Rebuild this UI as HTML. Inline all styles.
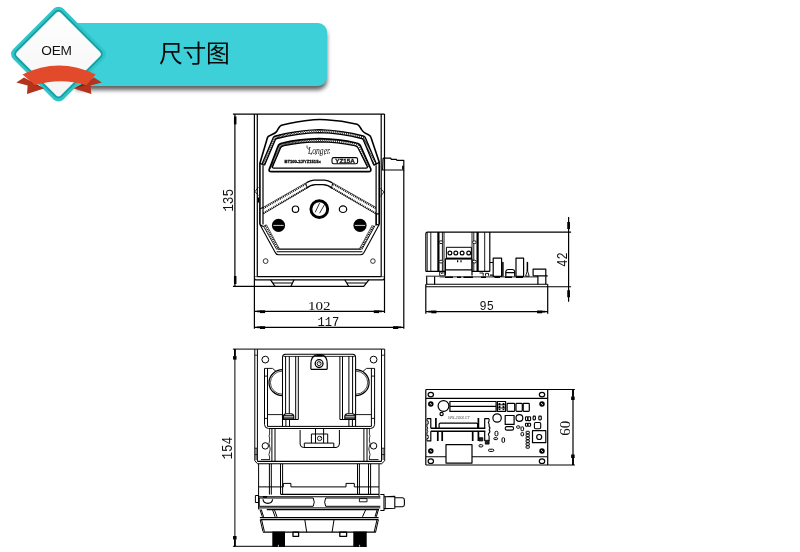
<!DOCTYPE html>
<html lang="zh">
<head>
<meta charset="utf-8">
<title>尺寸图</title>
<style>
html,body{margin:0;padding:0;background:#fff;}
body{width:800px;height:552px;position:relative;overflow:hidden;font-family:"Liberation Sans","Noto Sans CJK SC",sans-serif;}
#banner{position:absolute;left:76px;top:23px;width:251px;height:63px;background:#3dd0d9;border-radius:0 9px 9px 0;box-shadow:0 4px 4px rgba(0,0,0,.62);}
#title{will-change:transform;position:absolute;left:159px;top:38px;font-size:23.8px;line-height:32px;color:#0a0a0a;letter-spacing:-0.3px;white-space:nowrap;}
#oem{will-change:transform;position:absolute;left:26.2px;top:41px;width:61px;text-align:center;font-size:13.7px;letter-spacing:-0.2px;line-height:20px;color:#111;}
svg{position:absolute;left:0;top:0;}
#dw{shape-rendering:auto;}
#dw{will-change:transform;}
#dw text{font-family:"Liberation Mono",monospace;fill:#111;stroke:none;}
</style>
</head>
<body>
<div id="banner"></div>
<svg id="badge" width="800" height="552" viewBox="0 0 800 552">

<defs>
<linearGradient id="wg" x1="0" y1="0" x2="1" y2="1"><stop offset="0" stop-color="#ffffff"/><stop offset="1" stop-color="#f4f4f4"/></linearGradient>
</defs>
<g transform="translate(58.5,54.1) rotate(45)">
<rect x="-35.6" y="-35.6" width="71.2" height="71.2" rx="7" fill="#2fc6c9"/>
<rect x="-32.8" y="-32.8" width="65.6" height="65.6" rx="5" fill="#17a1a5"/>
<rect x="-30.9" y="-30.9" width="61.8" height="61.8" rx="3.5" fill="url(#wg)"/>
</g>
<!-- ribbon tails -->
<path d="M16.3 82.5 L24 77.5 L44 88.6 L27 94 L27.6 85.5 Z" fill="#b4331c"/>
<path d="M101.9 82.5 L94 77.5 L74 88.6 L91.3 94 L90.6 85.5 Z" fill="#b4331c"/>
<path d="M27 79.5 L35 85 L44 88.6 Z" fill="#7a2213"/>
<path d="M91 79.5 L86.3 85 L74 88.6 Z" fill="#7a2213"/>
<path d="M22.5 74.4 Q59 56.5 95.6 74.4 L86.3 85.2 Q60.5 77.5 35 85.2 Z" fill="#e14b2c"/>

</svg>
<div id="title">尺寸图</div>
<div id="oem">OEM</div>
<svg id="dw" width="800" height="552" viewBox="0 0 800 552" fill="none" stroke="#000" stroke-width="1.2" stroke-linecap="butt" stroke-linejoin="round">
<!--FRONT-->
<path d="M232.9 114.1H384.5"/>
<path d="M234.9 114.1V286.3"/>
<path d="M235.20000000000002 116.39999999999999L235.20000000000002 124.39999999999999" stroke-width="2.5"/>
<path d="M235.20000000000002 284.0L235.20000000000002 276.0" stroke-width="2.5"/>
<path d="M232.9 286.3H364"/>
<path d="M254.4 114.1V328.8M257.3 114.1V276.7M381.2 114.1V276.7M384.5 114.1V313"/>
<path d="M257.3 276.7H381.2M254.4 278.6L255.6 279.8H383.2L384.5 278.4"/>
<path d="M254.4 276.7H257.3M381.2 276.7H384.5" stroke-width="0.6"/>
<path d="M270.6 279.8L275 286.3M294 279.8L291 286.3M272.2 283H293"/>
<path d="M344.8 279.8L348.6 286.3M368.9 279.8L363.8 286.3M346.5 283H366.5"/>
<path d="M254.4 311.4H384.5M254.4 327.3H403.7M403.8 170V328.8"/>
<path d="M259.9 311.7L265.1 311.7" stroke-width="2.8"/><path d="M256.9 311.4L260.4 311.4" stroke-width="1.7"/>
<path d="M379.0 311.7L373.8 311.7" stroke-width="2.8"/><path d="M382.0 311.4L378.5 311.4" stroke-width="1.7"/>
<path d="M259.9 327.6L265.1 327.6" stroke-width="2.8"/><path d="M256.9 327.3L260.4 327.3" stroke-width="1.7"/>
<path d="M398.2 327.6L393.0 327.6" stroke-width="2.8"/><path d="M401.2 327.3L397.7 327.3" stroke-width="1.7"/>
<text x="308" y="310" style="font-family:'Liberation Serif',serif" font-size="13.4" textLength="22.6" lengthAdjust="spacingAndGlyphs">102</text>
<text x="317.4" y="325.6" font-size="13.5" textLength="21.8" lengthAdjust="spacingAndGlyphs">117</text>
<text transform="translate(233.1,211.8) rotate(-90)" font-size="14.5" textLength="23" lengthAdjust="spacingAndGlyphs">135</text>
<path d="M383.1 158.1H390.6L391.4 159.4H396.3L397 160.3H403.8V170H382.6L383.1 158.1" stroke-width="1.2"/>
<path d="M402.9 165.8V169.6" stroke-width="1.6"/>
<path d="M259.9 224.6V163.3L267.5 137.5Q268 136 270 135.4Q275.7 133.2 277 131Q279.5 126 281.5 125.2Q296 121.3 313.7 119.7Q319.5 119.3 326 119.7Q342 120.6 357 124.2Q359 125 361.5 129.5Q363 132.5 368 134.5Q370.5 135.5 371 137.5L379.2 162V224.6" stroke-width="1.6"/>
<path d="M263 224.6V165.3M376.1 224.6V165.3"/>
<path d="M261.8 164.6L273.3 137.6Q273.8 136.4 275.5 136Q297 130.2 319.3 129.6Q342 130.2 363.2 136Q364.8 136.4 365.3 137.6L376.6 164.6" stroke-width="1.3"/>
<path d="M264.5 165.3L275.3 139.8Q275.8 138.8 277 138.5Q298 133 319.3 132.6Q341 133 361.6 138.5Q362.8 138.8 363.3 139.8L373.9 165.3" stroke-width="1.3"/>
<path d="M261.8 164.6L265.3 163.3M262.7 162.5L266.2 161.4M263.6 160.5L267.0 159.4M264.4 158.4L267.8 157.4M265.3 156.3L268.7 155.5M266.2 154.2L269.5 153.5M267.1 152.2L270.3 151.5M268.0 150.1L271.2 149.6M268.9 148.0L272.0 147.6M269.7 146.0L272.8 145.6M270.6 143.9L273.7 143.6M271.5 141.8L274.5 141.7M272.4 139.8L275.3 139.7M273.3 137.7L277.0 138.5M274.9 136.2L279.1 138.0M277.0 135.6L281.2 137.5M279.2 135.0L283.3 137.0M281.4 134.5L285.3 136.5M283.6 134.0L287.4 136.1M285.8 133.5L289.5 135.7M288.0 133.1L291.6 135.3M290.2 132.7L293.7 134.9M292.4 132.3L295.9 134.6M294.6 131.9L298.0 134.3M296.9 131.5L300.1 134.0M299.1 131.2L302.2 133.7M301.3 130.9L304.3 133.5M303.6 130.7L306.5 133.3M305.8 130.4L308.6 133.1M308.0 130.2L310.7 133.0M310.3 130.1L312.9 132.8M312.5 129.9L315.0 132.7M314.8 129.8L317.1 132.7M317.0 129.7L319.3 132.6M319.3 129.6L321.4 132.7M321.5 129.7L323.5 132.7M323.8 129.8L325.7 132.8M326.0 129.9L327.8 133.0M328.3 130.0L329.9 133.1M330.5 130.2L332.1 133.3M332.7 130.4L334.2 133.5M335.0 130.7L336.3 133.7M337.2 130.9L338.4 134.0M339.5 131.2L340.6 134.3M341.7 131.5L342.7 134.6M343.9 131.8L344.8 134.9M346.1 132.2L346.9 135.2M348.3 132.6L349.0 135.6M350.6 133.0L351.1 136.0M352.8 133.5L353.2 136.5M355.0 134.0L355.3 136.9M357.1 134.5L357.4 137.4M359.3 135.0L359.4 137.9M361.5 135.5L361.5 138.5M363.7 136.2L363.2 139.6M365.3 137.6L364.1 141.6M366.2 139.7L364.9 143.6M367.0 141.8L365.7 145.6M367.9 143.8L366.5 147.5M368.8 145.9L367.3 149.5M369.6 148.0L368.2 151.5M370.5 150.1L369.0 153.5M371.4 152.1L369.8 155.4M372.3 154.2L370.6 157.4M373.1 156.3L371.4 159.4M374.0 158.4L372.3 161.4M374.9 160.4L373.1 163.3M375.7 162.5L373.9 165.3" stroke-width="0.8"/>
<path d="M259.9 163.3L264.5 165.3M379.2 162.4L373.9 165.3" />
<path d="M269.2 169.5L278 146.2Q279 143.6 282.5 143Q300 139 319.3 138.7Q339 139 356.2 143Q359.6 143.6 360.6 146.2L370.8 169Q371.4 171.6 368.6 171.7H271.4Q268.6 171.6 269.2 169.5Z" stroke-width="1.7"/>
<path d="M272.6 166.4L280.6 147.8Q281.4 146 284 145.6Q301 142.2 319.3 141.9Q338 142.2 354.6 145.6Q357.2 146 358 147.8L367.2 166.4Q367.8 168.1 366 168.2H273.8Q272 168.1 272.6 166.4Z" stroke-width="1.3"/>
<path d="M269.2 169.5L273.4 164.6M270.0 167.4L274.2 162.7M270.8 165.3L275.0 160.9M271.6 163.2L275.8 159.0M272.4 161.0L276.6 157.2M273.2 158.9L277.4 155.3M274.0 156.8L278.2 153.5M274.8 154.7L279.0 151.6M275.6 152.6L279.7 149.8M276.4 150.5L280.5 147.9M277.2 148.3L281.8 146.4M278.0 146.2L283.6 145.7M279.3 144.4L285.6 145.3M281.2 143.3L287.6 144.9M283.4 142.8L289.6 144.6M285.7 142.3L291.5 144.3M287.9 141.9L293.5 144.0M290.1 141.5L295.5 143.7M292.3 141.1L297.5 143.4M294.6 140.7L299.5 143.2M296.8 140.4L301.5 143.0M299.0 140.1L303.5 142.8M301.3 139.8L305.5 142.6M303.5 139.6L307.5 142.4M305.8 139.4L309.5 142.3M308.0 139.2L311.5 142.2M310.3 139.0L313.5 142.1M312.6 138.9L315.5 142.0M314.8 138.8L317.5 141.9M317.1 138.7L319.6 141.9M319.3 138.7L321.6 141.9M321.6 138.7L323.6 142.0M323.9 138.8L325.6 142.1M326.1 138.9L327.6 142.2M328.4 139.0L329.6 142.3M330.6 139.2L331.6 142.4M332.9 139.4L333.6 142.6M335.1 139.6L335.6 142.8M337.4 139.8L337.6 143.0M339.6 140.1L339.6 143.2M341.9 140.4L341.6 143.5M344.1 140.7L343.6 143.7M346.4 141.0L345.6 144.0M348.6 141.4L347.6 144.3M350.8 141.9L349.5 144.6M353.0 142.3L351.5 145.0M355.2 142.8L353.5 145.4M357.4 143.3L355.5 145.8M359.4 144.4L357.2 146.7M360.6 146.3L358.3 148.4M361.6 148.4L359.2 150.2M362.5 150.4L360.1 152.0M363.4 152.5L361.0 153.8M364.3 154.5L361.9 155.6M365.3 156.6L362.7 157.4M366.2 158.7L363.6 159.2M367.1 160.7L364.5 161.0M368.0 162.8L365.4 162.8M369.0 164.9L366.3 164.6M369.9 166.9L367.2 166.4" stroke-width="0.75"/>
<text x="308" y="153.5" font-family="Liberation Serif,serif" style="font-family:'Liberation Serif',serif;font-style:italic" font-size="9.5" textLength="22" lengthAdjust="spacingAndGlyphs">Longer</text>
<path d="M307 145.5Q306 148 309 149.5M311 154.8l.6 -1.6M315.5 154.8l.6 -1.6M320 154.8l.6 -1.6M324.5 154.8l.6 -1.6M329 153.8l.6 -1.6" stroke-width="0.7"/>
<text x="284.4" y="163.2" style="font-family:'Liberation Sans',sans-serif;font-weight:bold;stroke:#111;stroke-width:0.35px" font-size="4.4" textLength="36.4" lengthAdjust="spacingAndGlyphs" stroke="#111" stroke-width="0.35">BT100-2J/YZ1515x</text>
<rect x="332" y="157.6" width="25.6" height="6.2" rx="1.8" stroke-width="1.1"/>
<text x="335.2" y="162.9" style="font-family:'Liberation Sans',sans-serif;font-weight:bold;stroke:#111;stroke-width:0.3px" font-size="5.8" textLength="19.6" lengthAdjust="spacingAndGlyphs" stroke="#111" stroke-width="0.3">YZ15A</text>
<path d="M306.5 182.6Q310.5 180.3 314 180.2H324.5Q328 180.3 332 182.6" stroke-width="1.3"/>
<path d="M306 188.4Q310.5 184.7 315.5 184.6H323Q328 184.7 332.5 188.4" stroke-width="1.3"/>
<path d="M263 207.4L306.5 182.5M332 182.5L376.1 207.4M263 214L306 188.6M332.5 188.6L376.1 214" stroke-width="0.6"/>
<path d="M263.4 208.3L306.7 183.5M375.6 208.3L332 183.5M263.4 213.2L306.3 188M375.6 213.2L332.3 188" stroke-width="1.8" stroke-dasharray="0.95 0.95"/>
<path d="M305.6 183.2L307.4 188.2M333 183.2L331.2 188.2" stroke-width="0.9"/>
<path d="M258.4 187.2L255 191.5L258.4 195.5" stroke-width="0.8"/><path d="M258.3 197.5V202.6" stroke-width="1.6"/>
<path d="M380.4 188.2L383.8 192L380.6 196.5" stroke-width="0.8"/>
<path d="M259.9 208.7L263 207.5M259.9 224.6L263 226.6M375.6 213.8H379.2M375.4 224.8L379.2 224.6M376.2 214V224.6" />
<path d="M259.9 224.6L275.1 252.2Q276 254.6 278.5 254.8H360.5Q363 254.6 364 252.4L379.2 224.6" stroke-width="1.1"/>
<path d="M263.6 226.4L276.8 249.6M263 226.6L266.4 224.8M361.8 249.6L375 225.6" stroke-width="0.9"/>
<path d="M277.6 249.1H361M276.6 251.7H362.4" stroke-width="1.1"/>
<path d="M265.4 225.8L278.3 248.8M373.6 225.8L360.6 248.8" stroke-width="2" stroke-dasharray="0.95 0.95"/>
<path d="M266.8 225.2L279.4 248.8M372.2 225.2L359.4 248.8" stroke-width="0.6"/>
<circle cx="265.6" cy="261.1" r="2.4" stroke-width="0.8"/><circle cx="372.9" cy="261.1" r="2.3" stroke-width="0.8"/>
<circle cx="295.5" cy="209.2" r="3.2"/><ellipse cx="343" cy="209.2" rx="3.7" ry="3.3"/>
<circle cx="319.3" cy="209.1" r="8.4" stroke-width="2.9"/>
<path d="M315.2 212.3L319.6 203.1M319.6 213.2L324.8 204" stroke-width="0.8"/>
<circle cx="278.5" cy="225.4" r="6.6" fill="#000" stroke="none"/><path d="M273.3 225.4H283.7" stroke="#fff" stroke-width="0.8"/>
<circle cx="360" cy="225.4" r="6.6" fill="#000" stroke="none"/><path d="M354.8 225.4H365.2" stroke="#fff" stroke-width="0.8"/>
<!--/FRONT-->
<!--BOTTOM-->
<g stroke-width="1.0">
<path d="M232.9 349.1H384.7M234.9 349.1V546.6M232.9 546.3H366.7"/>
<path d="M234.9 349.1L234.9 356.1" stroke-width="1.8"/><path d="M234.8 356.1L234.8 359.6" stroke-width="3.5"/>
<path d="M234.9 546.5L234.9 539.5" stroke-width="1.8"/><path d="M234.8 539.5L234.8 536.0" stroke-width="3.5"/>
<text transform="translate(232,459.6) rotate(-90)" font-size="14" textLength="22.6" lengthAdjust="spacingAndGlyphs">154</text>
<path d="M254.8 349.1V460.8L257.4 463.6M257.4 349.1V461.4M381.5 349.1V461.4M384.7 349.1V460.8L381.8 463.6"/>
<path d="M254.8 355.2H257.4M381.5 355.2H384.7M254.8 448.2H257.4M254.8 454.6H257.4M381.5 448.2H384.7M381.5 454.6H384.7" stroke-width="0.8"/>
<path d="M256.1 448.2V460M383.1 448.2V460" stroke-width="0.8"/>
<circle cx="265.3" cy="359.6" r="3.4"/><circle cx="373.6" cy="359.6" r="3.4"/>
<circle cx="265.3" cy="445.9" r="3.2"/><circle cx="373.6" cy="445.9" r="3.2"/>
<path d="M264.5 368.4V424.5Q264.6 428.4 268.5 428.5H370.6Q374.5 428.4 374.6 424.5V368.4"/>
<path d="M267.5 368.4V426.4H371.4V368.4"/>
<path d="M264.5 368.4H272.5L276 371.4M374.6 368.4H366.5L363 371.4M264.5 376.1H267.5M371.4 376.1H374.6M264.5 418.4H267.5M371.4 418.4H374.6" stroke-width="0.9"/>
<path d="M267.5 414.6H282.5M355.6 414.6H371.4" stroke-width="0.9"/>
<path d="M282.5 369.7A13.5 12.95 0 0 0 282.5 395.6" stroke-width="1.2"/><path d="M282.5 371.1A12.1 11.55 0 0 0 282.5 394.2" stroke-width="0.7"/>
<path d="M355.6 369.7A13.5 12.95 0 0 1 355.6 395.6" stroke-width="1.2"/><path d="M355.6 371.1A12.1 11.55 0 0 1 355.6 394.2" stroke-width="0.7"/>
<path d="M282.5 426.4V357.4Q282.6 354.5 285.4 354.3H352.7Q355.5 354.5 355.6 357.4V426.4" stroke-width="1.05"/>
<path d="M283.6 356.4H354.6" stroke-width="0.8"/>
<path d="M285.6 356.2V413.7M289.3 356.2V413.7M295.7 356.2V419.5M298.3 356.2V419.5M339.9 356.2V419.5M342.5 356.2V419.5M348.9 356.2V413.7M352.6 356.2V413.7"/>
<path d="M282.5 419.5H298.3M339.9 419.5H355.6M285.9 419.5V426.4M289.5 419.5V426.4M348.9 419.5V426.4M352.4 419.5V426.4"/>
<path d="M283.40000000000003 418.9V416.5Q283.40000000000003 413.9 286.1 413.7H291.1Q293.8 413.9 293.8 416.5V418.9Z" stroke-width="1.1"/>
<path d="M284.0 415.6H293.20000000000005M283.6 417.2H293.6" stroke-width="0.9"/>
<path d="M344.8 418.9V416.5Q344.8 413.9 347.5 413.7H352.5Q355.2 413.9 355.2 416.5V418.9Z" stroke-width="1.1"/>
<path d="M345.4 415.6H354.6M345 417.2H355" stroke-width="0.9"/>
<path d="M310.9 369.3V363.5Q311 356.4 316.5 354.9M327.2 369.3V363.5Q327.1 356.4 322.1 354.9M310.9 369.3H327.2" stroke-width="1.2"/>
<path d="M316.3 355.2H322.3" stroke-width="2.2"/>
<circle cx="319.1" cy="363.6" r="3.9" stroke-width="1.3"/><circle cx="319.1" cy="363.6" r="2" stroke-width="0.9"/><path d="M319.3 363.4L320.6 362" stroke-width="0.8"/>
<path d="M300.1 430V444Q300.3 447.4 303.5 447.5H336Q339.2 447.4 339.4 444V430" stroke-width="1"/>
<path d="M304.3 447.4V443.1H333.8V447.4M311.4 443.1V434H327.7V443.1M315.5 428.5V443.1M323.6 428.5V443.1" />
<circle cx="319.6" cy="438.4" r="2.2" stroke-width="0.9"/><path d="M319.6 438.4l1-1" stroke-width="0.7"/>
<path d="M271.9 428.5V461.5M275 428.5V461.5M367 428.5V461.5M363.9 428.5V461.5"/>
<path d="M269.6 428.5V434Q268.4 436 269.6 438V441Q268.2 443.5 269.6 446Q270.8 449 269.6 452Q268.2 454.5 269.6 457V459.6M369.4 428.5V434Q370.6 436 369.4 438V441Q370.8 443.5 369.4 446Q368.2 449 369.4 452Q370.8 454.5 369.4 457V459.6" stroke-width="0.8"/>
<path d="M261 459.6H270M369 459.6H378.5" stroke-width="0.9"/>
<path d="M257.4 461.4H381.6M257.4 463.8H381.8" stroke-width="1.1"/>
<path d="M258.6 463.8V509.4M269.4 463.8V494.6M271.3 463.8V494.6M280.5 463.8V494.6M282.6 463.8V494.6M357.5 463.8V494.6M359.4 463.8V494.6M368.5 463.8V494.6M370.6 463.8V494.6M379 463.8V496"/>
<path d="M258.6 486.9H283.3V483.4H290.9V486.9H346V483.4H354.3V486.9H379"/>
<path d="M281 494.3H379" stroke-width="1.3"/><path d="M258.6 496.8H380.3" stroke-width="1.1"/>
<path d="M263 496.9H267" stroke-width="1.8"/>
<rect x="255.4" y="495.5" width="3.2" height="7"/>
<path d="M259.2 498H313.2Q315.3 502.1 313.2 506.3H259.2Z"/>
<path d="M263 499.2Q263.4 503.2 267.8 503.3Q272.2 503.2 272.6 499.2" stroke-width="1.2"/>
<path d="M380.3 498H325.7Q323.6 502.1 325.7 506.3H380.3"/>
<rect x="359.4" y="498.6" width="7.6" height="3.2" stroke-width="0.9"/>
<path d="M258.6 507.9H380.3" stroke-width="1"/><path d="M266.8 509.7H379" stroke-width="1.3"/>
<path d="M259.9 509.4L262.4 516.8M261.2 509.4L263.6 516.8M272.5 509.7L275.1 516.8M274.4 509.7L277 516.8M365.7 509.7L362.5 516.8M378.4 509.7L376.3 516.8M377.2 509.7L375 516.8"/>
<path d="M259.9 517.6H378.6M260.4 519.7H378.4" stroke-width="1.2"/>
<path d="M260.2 519.7L263 531.6M261.6 519.7L264.4 531.6M304.8 519.7L306.7 532.1M334 519.7L332.1 532.1M378.4 519.7L375.6 532.1M377 519.7L374.2 532.1"/>
<path d="M263 532.1H375.8" stroke-width="1.4"/>
<rect x="293" y="532.1" width="5.6" height="4.2" stroke-width="1.3"/><rect x="339.8" y="532.1" width="6.8" height="4.2" stroke-width="1.3"/>
<rect x="272.3" y="531.6" width="12.7" height="15.2" fill="#000" stroke="none"/><rect x="353.3" y="531.6" width="13.4" height="15.2" fill="#000" stroke="none"/>
<path d="M278.4 546.6V544.8M359.6 546.6V544.8" stroke="#fff" stroke-width="0.8"/>
<path d="M380.3 494.5H384V510.5H380.3M384 496.8L394.8 496.4V508.2L384 508.6M394.8 497.8H402.4Q404.4 498 404.4 500V504.6Q404.4 506.6 402.4 506.7H394.8" stroke-width="1.1"/>
<path d="M385.4 496.8V508.6" stroke-width="0.8"/>
</g>
<!--/BOTTOM-->
<!--PCBSIDE-->
<path d="M425.8 271.4V233.6Q425.9 232.2 427.4 232.1H571.1" stroke-width="1.1"/>
<path d="M425.8 271.4H445.4M472 271.4H489.8M489.8 232.1V271.4"/>
<path d="M427.2 232.1V271.4M430.8 232.1V271.4M442.4 232.1V271.4M444 232.1V271.4M472 232.1V271.4M473.8 232.1V271.4M484.7 232.1V271.4" stroke-width="0.9"/>
<path d="M438.4 232.1V271.4M477.6 232.1V271.4" stroke-width="2.2"/>
<ellipse cx="441" cy="242.2" rx="1.9" ry="1.4" fill="#fff" stroke-width="0.9"/>
<ellipse cx="441" cy="261.6" rx="1.9" ry="1.4" fill="#fff" stroke-width="0.9"/>
<ellipse cx="474.4" cy="242.2" rx="1.9" ry="1.4" fill="#fff" stroke-width="0.9"/>
<ellipse cx="474.4" cy="261.6" rx="1.9" ry="1.4" fill="#fff" stroke-width="0.9"/>
<rect x="446.4" y="247.3" width="25" height="10.8" stroke-width="1"/>
<circle cx="449.9" cy="253" r="1.9" stroke-width="1.2"/>
<circle cx="455.8" cy="253" r="1.9" stroke-width="1.2"/>
<circle cx="462.1" cy="253" r="1.9" stroke-width="1.2"/>
<circle cx="468.7" cy="253" r="1.9" stroke-width="1.2"/>
<path d="M445.4 258.8H472" stroke-width="1.6"/>
<path d="M445.4 258.8V275.6M472 258.8V275.6M445.4 269.8H472M457.6 260.2V262.2M461 260.2V262.2"/>
<path d="M439.7 272H444.8V275.8H439.7ZM441 273.6Q442.2 272.6 443.4 273.6" stroke-width="0.9"/>
<path d="M479.5 273H483.2V275.8M485.5 275.8V273.4H488.5V275.8" stroke-width="0.9"/>
<rect x="493.2" y="258.1" width="8.4" height="18.2"/>
<path d="M489.8 262.5H493.2M489.8 275.2H493.2"/>
<path d="M502.9 261.9V276.4" stroke-width="1.5"/>
<path d="M505.8 276.4V271.5Q506 269.6 508 269.5H512.6Q514.6 269.6 514.7 271.5V276.4M505.8 272.6H514.7" />
<rect x="516" y="258.1" width="7.6" height="18.2"/>
<path d="M527.4 261.9V271" stroke-width="1.5"/><path d="M527.4 270.4L525.6 276.2H529.2Z" stroke-width="0.9"/>
<path d="M533.1 275.8V269.2H545.8V284.2M533.1 275.8H547.7M537.9 275.8V284.2"/>
<path d="M425.8 276.2H439.5M439.5 276.9H537.9" stroke-width="0.9"/>
<path d="M445 277.2H453M457 277.2H461M463.5 277.2H473M481 277.2H486M494.5 277.2H500M505 277.2H512M516 277.2H523" stroke-width="1.5"/>
<path d="M426.7 276.5V284.2M434.6 276.5V284.2"/>
<path d="M425.8 284.3H547.7M425.8 286.8H571.1" stroke-width="1.1"/>
<path d="M425.8 284.3V313.8M547.7 284.3V313.8M425.8 311.6H547.7"/>
<path d="M431.3 311.90000000000003L436.5 311.90000000000003" stroke-width="2.8"/><path d="M428.3 311.6L431.8 311.6" stroke-width="1.7"/>
<path d="M542.2 311.90000000000003L537.0 311.90000000000003" stroke-width="2.8"/><path d="M545.2 311.6L541.7 311.6" stroke-width="1.7"/>
<text x="479.6" y="310" font-size="13.5" textLength="14.2" lengthAdjust="spacingAndGlyphs">95</text>
<path d="M568.6 216.9V301.8"/>
<path d="M568.6 222V229.1M568.6 290.3V297.3" stroke-width="2.7"/>
<text transform="translate(566.6,266.8) rotate(-90)" font-size="14" textLength="14.4" lengthAdjust="spacingAndGlyphs">42</text>
<!--/PCBSIDE-->
<!--PCBTOP-->
<path d="M425.8 389.5H574.9M425.8 465H574.9M425.8 389.5V465M547.7 389.5V465" stroke-width="1.2"/>
<path d="M425.8 398.4H547.7M425.8 456.8H547.7" stroke-width="1.1"/>
<path d="M573 389.5V465"/>
<path d="M573 389.5L573 396.5" stroke-width="1.8"/><path d="M572.9 396.5L572.9 400.0" stroke-width="3.5"/>
<path d="M573 465L573 458" stroke-width="1.8"/><path d="M572.9 458L572.9 454.5" stroke-width="3.5"/>
<text transform="translate(570.4,435.8) rotate(-90)" style="font-family:'Liberation Serif',serif" font-size="14.3" textLength="15" lengthAdjust="spacingAndGlyphs">60</text>
<ellipse cx="430.8" cy="394.6" rx="2.7" ry="2.3"/>
<ellipse cx="542" cy="394.6" rx="2.7" ry="2.3"/>
<ellipse cx="430.8" cy="461.2" rx="2.7" ry="2.3"/>
<ellipse cx="542" cy="461.2" rx="2.7" ry="2.3"/>
<circle cx="430.8" cy="404.1" r="1.9" stroke-width="1.7"/><path d="M429.6 405.3L432.0 402.90000000000003" stroke-width="0.9"/>
<circle cx="542" cy="404.1" r="1.9" stroke-width="1.7"/><path d="M540.8 405.3L543.2 402.90000000000003" stroke-width="0.9"/>
<circle cx="430.8" cy="451" r="1.9" stroke-width="1.7"/><path d="M429.6 452.2L432.0 449.8" stroke-width="0.9"/>
<circle cx="542" cy="451" r="1.9" stroke-width="1.7"/><path d="M540.8 452.2L543.2 449.8" stroke-width="0.9"/>
<circle cx="443.5" cy="406" r="5.4"/><circle cx="441.6" cy="414" r="1.6"/>
<rect x="449.9" y="401.5" width="46.2" height="9.9" stroke-width="1.2"/><path d="M449.9 406.4H496.1"/>
<rect x="497.4" y="401.5" width="8.2" height="9.9"/>
<path d="M499.5 403V410M503.5 403V410" stroke-width="1.8" stroke-dasharray="2.2 0.8"/>
<path d="M498 404.8H505M498 408H505" stroke-width="0.9"/>
<rect x="507.1" y="403.4" width="7.6" height="8" rx="0.8" stroke-width="1.2"/>
<rect x="516" y="403.4" width="6.3" height="8" rx="0.8" stroke-width="1.2"/>
<rect x="523.2" y="403.4" width="6.1" height="8" rx="0.8" stroke-width="1.2"/>
<text x="448" y="418.8" style="font-family:'Liberation Sans',sans-serif;font-style:italic" font-size="3" fill-opacity="0.8" textLength="22" lengthAdjust="spacingAndGlyphs">WS-100LCT</text>
<path d="M430.8 428.2H485.3M430.8 431.3H485.3" stroke-width="1.4"/>
<path d="M427 418.7H430.8V428.2M484.7 428.2V418.7H489.1M430.8 431.3V440.9H427M484.7 431.3V440.9"/>
<path d="M435.9 418V428.2M478.4 418V428.2M437.8 431.3V440.9M442.2 431.3V440.9M472.7 431.3V440.9M478.4 431.3V440.9" stroke-width="1.7"/>
<path d="M439.1 428.2V424.4Q439.2 423.2 440.4 423.1H476.4Q477.6 423.2 477.7 424.4V428.2" />
<path d="M427 418.7V421H428.2V424H427V426.5Q428.6 428 427 429.8Q428.6 431.4 427 433V435.5H428.2V438.5H427V440.9" stroke-width="0.9"/>
<path d="M489.1 418.7V421Q487.6 422.6 489.1 424.2V426.5Q490.7 428 489.1 429.8Q490.7 431.4 489.1 433Q487.6 434.6 489.1 436.2V440.9" stroke-width="1.1"/>
<rect x="446" y="444.7" width="26" height="18.4" fill="#fff" stroke-width="1.2"/>
<circle cx="497.1" cy="418" r="4.2"/><circle cx="519.4" cy="418" r="3.4"/>
<rect x="505.2" y="415.5" width="8.9" height="8.9" stroke-width="1.2"/>
<rect x="505.2" y="426.6" width="8.4" height="3.5" rx="1.7" stroke-width="1.1"/>
<rect x="525.5" y="416.8" width="2.2" height="3.8" rx="0.8" stroke-width="1.1"/>
<rect x="527.9" y="416.8" width="2.7" height="3.8" rx="0.8" stroke-width="1.1"/>
<rect x="525.5" y="423.3" width="2.2" height="3" rx="0.8" stroke-width="1.1"/>
<rect x="527.9" y="423.3" width="2.7" height="3" rx="0.8" stroke-width="1.1"/>
<rect x="533.1" y="416.1" width="2.3" height="3.8" rx="0.8" stroke-width="1.1"/>
<rect x="538.8" y="416.1" width="2.5" height="3.8" rx="0.8" stroke-width="1.1"/>
<rect x="534.4" y="422.5" width="6.3" height="6.3" rx="1.2" stroke-width="1.1"/>
<rect x="532.5" y="430.7" width="13.3" height="12" stroke-width="1.2"/><circle cx="539.2" cy="437" r="2.5"/>
<rect x="526.1" y="431.3" width="3.2" height="2.4" rx="0.4" stroke-width="1.0"/>
<rect x="526.1" y="434.2" width="3.2" height="2.4" rx="0.4" stroke-width="1.0"/>
<rect x="526.1" y="437.1" width="3.2" height="2.4" rx="0.4" stroke-width="1.0"/>
<rect x="526.1" y="440.0" width="3.2" height="2.4" rx="0.4" stroke-width="1.0"/>
<rect x="526.1" y="442.90000000000003" width="3.2" height="2.4" rx="0.4" stroke-width="1.0"/>
<rect x="526.1" y="445.8" width="3.2" height="2.4" rx="0.4" stroke-width="1.0"/>
<rect x="516.6" y="425.9" width="3.2" height="2.3" rx="0.8" stroke-width="1.0"/>
<rect x="521" y="426.9" width="2.6" height="3.8" rx="0.8" stroke-width="1.0"/>
<rect x="521" y="432.6" width="2.6" height="3.2" rx="0.8" stroke-width="1.0"/>
<rect x="495" y="431.3" width="2.9" height="4.5" rx="1.2" stroke-width="1.0"/>
<rect x="493.8" y="437.7" width="3.8" height="1.9" rx="0.9" stroke-width="1.0"/>
<rect x="502" y="437.7" width="2.6" height="4.7" rx="1.2" stroke-width="1.0"/>
<rect x="479" y="437.7" width="3.8" height="3.2" fill="#222" stroke-width="0.8"/><rect x="485.3" y="440.3" width="3.8" height="3.8" fill="#222" stroke-width="0.8"/>
<rect x="479" y="444.7" width="3.8" height="2.2" rx="1" stroke-width="1.0"/>
<rect x="488.5" y="449.2" width="5.3" height="2.2" rx="1.1" stroke-width="1.0"/>
<!--/PCBTOP-->
</svg>
</body>
</html>
